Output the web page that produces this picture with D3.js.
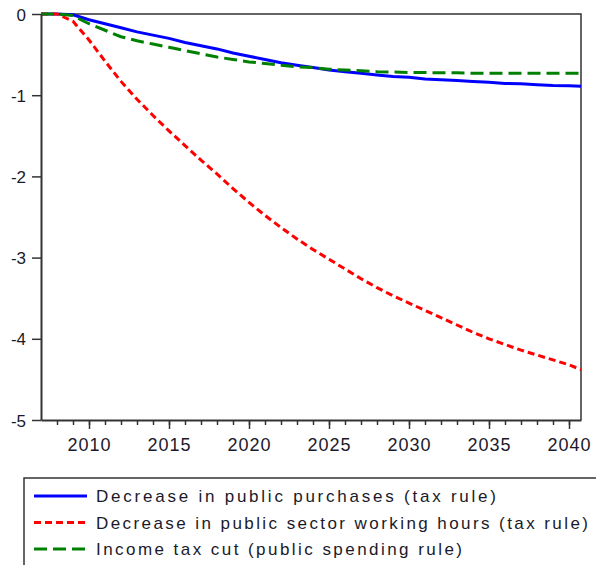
<!DOCTYPE html>
<html>
<head>
<meta charset="utf-8">
<script src="https://cdn.jsdelivr.net/npm/d3@7"></script>
<style>
  html, body { margin: 0; padding: 0; background: #fff; overflow: hidden; }
  svg { display: block; }
  svg text { font-family: "Liberation Sans", Arial, sans-serif; fill: #1a1a2a; }
</style>
</head>
<body>
<div id="chart"></div>
<script>
const years = [2007, 2008, 2009, 2010, 2011, 2012, 2013, 2014, 2015, 2016, 2017, 2018, 2019,
  2020, 2021, 2022, 2023, 2024, 2025, 2026, 2027, 2028, 2029, 2030, 2031, 2032, 2033,
  2034, 2035, 2036, 2037, 2038, 2039, 2040, 2040.75];

const purchases = [0, 0, -0.01, -0.07, -0.12, -0.17, -0.22, -0.26, -0.30, -0.35, -0.39, -0.43, -0.48,
  -0.52, -0.56, -0.60, -0.63, -0.66, -0.69, -0.71, -0.73, -0.75, -0.77, -0.78, -0.80, -0.81, -0.82,
  -0.83, -0.84, -0.855, -0.86, -0.87, -0.88, -0.885, -0.89];

const workingHours = [0, 0, -0.09, -0.32, -0.58, -0.83, -1.05, -1.25, -1.44, -1.62, -1.80, -1.97, -2.15,
  -2.32, -2.48, -2.63, -2.77, -2.90, -3.02, -3.14, -3.26, -3.37, -3.47, -3.56, -3.65, -3.74, -3.83,
  -3.92, -4.00, -4.07, -4.14, -4.20, -4.26, -4.32, -4.38];

const incomeTax = [0, 0, -0.02, -0.12, -0.20, -0.28, -0.33, -0.37, -0.41, -0.45, -0.49, -0.53, -0.56,
  -0.59, -0.61, -0.63, -0.65, -0.66, -0.68, -0.69, -0.70, -0.71, -0.715, -0.72, -0.72, -0.725, -0.725,
  -0.73, -0.73, -0.73, -0.73, -0.73, -0.73, -0.73, -0.73];

const seriesNames = [
  'Decrease in public purchases (tax rule)',
  'Decrease in public sector working hours (tax rule)',
  'Income tax cut (public spending rule)',
];

const yTicks = [0, -1, -2, -3, -4, -5];
const xMajorTicks = [2010, 2015, 2020, 2025, 2030, 2035, 2040];

const width = 596;
const height = 565;
const margin = { top: 14, right: 15, bottom: 145, left: 41 };
const innerWidth = width - margin.left - margin.right;
const innerHeight = height - margin.top - margin.bottom;

const xScale = d3.scaleLinear()
  .domain([2007, 2040.75])
  .range([0, innerWidth]);

const yScale = d3.scaleLinear()
  .domain([-5, 0])
  .range([innerHeight, 0]);

const series = [
  { name: seriesNames[0], values: purchases, color: '#0000ff', dash: null, legendWidth: 400 },
  { name: seriesNames[1], values: workingHours, color: '#ff0000', dash: '7,4', legendWidth: 492 },
  { name: seriesNames[2], values: incomeTax, color: '#008000', dash: '13,6', legendWidth: 366 },
];

const svg = d3.select('#chart')
  .append('svg')
    .attr('width', width)
    .attr('height', height);

const inner = svg.append('g')
  .attr('transform', `translate(${margin.left}, ${margin.top})`);

const line = d3.line()
  .x((d, i) => xScale(years[i]))
  .y(d => yScale(d));

// frame top and right
inner.append('path')
  .attr('d', `M0,0H${innerWidth}V${innerHeight}`)
  .attr('fill', 'none')
  .attr('stroke', '#333')
  .attr('stroke-width', 1.5);

series.forEach(s => {
  inner.append('path')
    .attr('d', line(s.values))
    .attr('fill', 'none')
    .attr('stroke', s.color)
    .attr('stroke-width', 3)
    .attr('stroke-dasharray', s.dash);
});

// y axis
const yAxis = d3.axisLeft(yScale)
  .tickValues(yTicks)
  .tickFormat(d => String(d))
  .tickSizeInner(9)
  .tickSizeOuter(0)
  .tickPadding(6);

inner.append('g')
  .attr('class', 'axis axis-y')
  .call(yAxis)
  .call(g => g.select('.domain').attr('stroke', '#333').attr('stroke-width', 2))
  .call(g => g.selectAll('.tick line').attr('stroke', '#333').attr('stroke-width', 1.5))
  .call(g => g.selectAll('text').style('font-size', '17px').attr('dy', '0.36em'));

// x axis: yearly minor ticks, major every 5 years
const xMinor = d3.axisBottom(xScale)
  .tickValues(d3.range(2008, 2041))
  .tickFormat('')
  .tickSizeInner(5)
  .tickSizeOuter(0);

inner.append('g')
  .attr('class', 'axis axis-x-minor')
  .attr('transform', `translate(0, ${innerHeight})`)
  .call(xMinor)
  .call(g => g.select('.domain').remove())
  .call(g => g.selectAll('.tick line').attr('stroke', '#333').attr('stroke-width', 1.5));

const xAxis = d3.axisBottom(xScale)
  .tickValues(xMajorTicks)
  .tickFormat(d => String(d))
  .tickSizeInner(9)
  .tickSizeOuter(0)
  .tickPadding(9);

inner.append('g')
  .attr('class', 'axis axis-x')
  .attr('transform', `translate(0, ${innerHeight})`)
  .call(xAxis)
  .call(g => g.select('.domain').attr('stroke', '#333').attr('stroke-width', 2))
  .call(g => g.selectAll('.tick line').attr('stroke', '#333').attr('stroke-width', 1.5))
  .call(g => g.selectAll('text').style('font-size', '18px').attr('letter-spacing', '1px'));

// legend, box runs off the right and bottom edges as in the source
const legend = svg.append('g')
  .attr('transform', 'translate(24, 478)');

legend.append('path')
  .attr('d', 'M580,0H0V92')
  .attr('fill', 'none')
  .attr('stroke', '#333')
  .attr('stroke-width', 1.5);

series.forEach((s, i) => {
  const y = 18 + i * 26.5;
  legend.append('line')
    .attr('x1', 10)
    .attr('x2', 63)
    .attr('y1', y)
    .attr('y2', y)
    .attr('stroke', s.color)
    .attr('stroke-width', 3)
    .attr('stroke-dasharray', s.dash);
  legend.append('text')
    .attr('x', 72)
    .attr('y', y)
    .attr('dy', '0.36em')
    .attr('textLength', s.legendWidth)
    .attr('lengthAdjust', 'spacing')
    .style('font-size', '17px')
    .text(s.name);
});
</script>
</body>
</html>
